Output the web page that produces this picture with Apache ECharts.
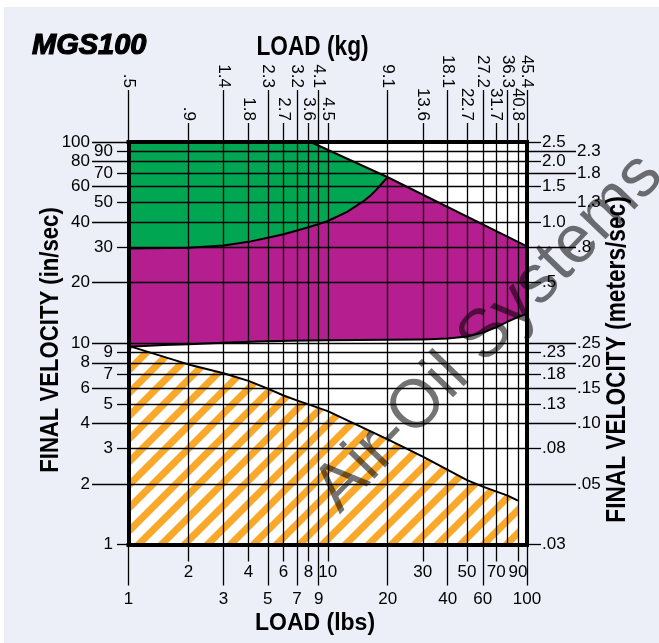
<!DOCTYPE html>
<html>
<head>
<meta charset="utf-8">
<title>MGS100 final velocity vs load</title>
<script src="https://cdn.jsdelivr.net/npm/echarts@6.0.0/dist/echarts.min.js"></script>
<style>
  html, body { margin: 0; padding: 0; background: #fff; }
  #chart { position: absolute; left: 4px; top: 7px; width: 655px; height: 636px; }
</style>
</head>
<body>
<div id="chart"></div>
<script>
// Load axis (lbs) tick values, long and short ticks alternate
const loadLbsLong  = [1, 3, 5, 7, 9, 20, 40, 60, 80, 100];
const loadLbsShort = [2, 4, 6, 8, 10, 30, 50, 70, 90];
// Matching kg labels along the top
const loadKgLong  = ['.5', '1.4', '2.3', '3.2', '4.1', '9.1', '18.1', '27.2', '36.3', '45.4'];
const loadKgShort = ['.9', '1.8', '2.7', '3.6', '4.5', '13.6', '22.7', '31.7', '40.8'];

// Velocity axis (in/sec) tick values
const velInLong  = [100, 80, 60, 40, 20, 10, 8, 6, 4, 2];
const velInShort = [90, 70, 50, 30, 9, 7, 5, 3, 1];
// Matching meters/sec labels on the right
const velMsLongAt   = [90, 70, 50, 30, 10, 8, 6, 4, 2];
const velMsLongText = ['2.3', '1.8', '1.3', '.8', '.25', '.20', '.15', '.10', '.05'];
const velMsShortAt   = [100, 80, 60, 40, 20, 9, 7, 5, 3, 1];
const velMsShortText = ['2.5', '2.0', '1.5', '1.0', '.5', '.23', '.18', '.13', '.08', '.03'];

// Region boundaries: [load lbs, velocity in/sec]
const upperLimit = [[8.2, 100], [20, 66.8], [100, 30.3]];
const greenLower = [[1, 29.6], [2, 29.8], [3, 30.6], [4, 31.9], [5, 33.4], [6, 34.8], [7, 36.3],
  [8, 37.7], [9, 39.1], [10, 40.5], [12.5, 45], [15, 50.5], [16.5, 54.5], [17.5, 57.8],
  [18.5, 61.5], [19.3, 64.5], [20, 66.8]];
const purpleLower = [[1, 9.6], [1.5, 9.8], [2, 9.9], [3, 10.05], [4.5, 10.2], [6.5, 10.3],
  [10, 10.35], [20, 10.4], [30, 10.45], [40, 10.55], [50, 10.8], [60, 11.3], [70, 12],
  [80, 12.8], [90, 13.5], [100, 14]];
const hatchUpper = [[1, 9.7], [2, 7.85], [3, 7.1], [4, 6.5], [5, 5.95], [6, 5.5], [7, 5.2],
  [8, 4.97], [10, 4.6], [20, 3.33], [30, 2.73], [40, 2.35], [50, 2.09], [60, 1.94],
  [80, 1.75], [90, 1.65]];

const SANS = '"Liberation Sans", Arial, sans-serif';

function lookup(values, labels) {
  return function (v) {
    let best = 0;
    for (let i = 1; i < values.length; i++) {
      if (Math.abs(Math.log(values[i] / v)) < Math.abs(Math.log(values[best] / v))) best = i;
    }
    return labels[best];
  };
}
const roundLabel = v => String(Math.round(v));

// Orange diagonal hatch tile
function makeHatch() {
  const P = 23, w = 10;
  const c = document.createElement('canvas');
  c.width = P; c.height = P;
  const g = c.getContext('2d');
  g.fillStyle = '#ffffff';
  g.fillRect(0, 0, P, P);
  g.fillStyle = '#F9A82A';
  for (let k = -1; k <= 2; k++) {
    g.beginPath();
    g.moveTo(k * P, 0);
    g.lineTo(k * P + w, 0);
    g.lineTo(k * P + w - P, P);
    g.lineTo(k * P - P, P);
    g.closePath();
    g.fill();
  }
  return c;
}
const hatch = makeHatch();

const tickLine = { color: '#000', width: 1.3 };
const gridLine = { color: '#000', width: 1.3 };
const border = { color: '#000', width: 4, cap: 'square' };
const labelFont = { color: '#000', fontSize: 17, fontFamily: SANS, showMinLabel: true, showMaxLabel: true, hideOverlap: false };

function axis(extra) {
  return Object.assign({
    type: 'log', logBase: 10, min: 1, max: 100, z: 10,
    axisLine: { show: false, onZero: false },
    minorTick: { show: false },
    minorSplitLine: { show: false },
    splitLine: { show: false }
  }, extra);
}

function regionSeries(buildPoints, style) {
  return {
    type: 'custom',
    silent: true,
    xAxisIndex: 0, yAxisIndex: 0,
    data: [[1, 1]],
    encode: { x: 0, y: 1 },
    renderItem: function (params, api) {
      return {
        type: 'polygon',
        shape: { points: buildPoints().map(p => api.coord(p)) },
        style: style
      };
    }
  };
}

function boundarySeries(lines) {
  return {
    type: 'custom',
    silent: true,
    xAxisIndex: 0, yAxisIndex: 0,
    data: [[1, 1]],
    encode: { x: 0, y: 1 },
    renderItem: function (params, api) {
      return {
        type: 'group',
        children: lines.map(pts => ({
          type: 'polyline',
          shape: { points: pts.map(p => api.coord(p)) },
          style: { stroke: '#000', lineWidth: 2, fill: null, lineJoin: 'round' }
        }))
      };
    }
  };
}

function title(text, x, y, size, extra) {
  return Object.assign({
    type: 'text', x: x, y: y, z: 50,
    style: { text: text, fontSize: size, fontWeight: 'bold', fontFamily: SANS, fill: '#000',
      align: 'center', textAlign: 'center', verticalAlign: 'middle', textVerticalAlign: 'middle' }
  }, extra || {});
}

const chart = echarts.init(document.getElementById('chart'), null, { renderer: 'canvas' });

const option = {
  animation: false,
  backgroundColor: '#ECEEF8',
  grid: { left: 124.5, right: 132, top: 135, bottom: 98.5, show: true, backgroundColor: '#ffffff', borderWidth: 0 },
  xAxis: [
    axis({
      position: 'bottom',
      axisLine: { show: true, onZero: false, lineStyle: border },
      axisTick: { show: true, customValues: loadLbsLong, length: 41, lineStyle: tickLine },
      axisLabel: Object.assign({ customValues: loadLbsLong, margin: 46, formatter: roundLabel }, labelFont),
      splitLine: { show: true, lineStyle: gridLine }
    }),
    axis({
      position: 'bottom',
      axisTick: { show: true, customValues: loadLbsShort, length: 17, lineStyle: tickLine },
      axisLabel: Object.assign({ customValues: loadLbsShort, margin: 19, formatter: roundLabel }, labelFont),
      splitLine: { show: true, lineStyle: gridLine }
    }),
    axis({
      position: 'top',
      axisLine: { show: true, onZero: false, lineStyle: border },
      axisTick: { show: true, customValues: loadLbsLong, length: 52, lineStyle: tickLine },
      axisLabel: Object.assign({ customValues: loadLbsLong, margin: 54, rotate: 90, formatter: lookup(loadLbsLong, loadKgLong) }, labelFont)
    }),
    axis({
      position: 'top',
      axisTick: { show: true, customValues: loadLbsShort, length: 19, lineStyle: tickLine },
      axisLabel: Object.assign({ customValues: loadLbsShort, margin: 21, rotate: 90, formatter: lookup(loadLbsShort, loadKgShort) }, labelFont)
    })
  ],
  yAxis: [
    axis({
      position: 'left',
      axisLine: { show: true, onZero: false, lineStyle: border },
      axisTick: { show: true, customValues: velInLong, length: 36.5, lineStyle: tickLine },
      axisLabel: Object.assign({ customValues: velInLong, margin: 38.5, formatter: roundLabel }, labelFont),
      splitLine: { show: true, lineStyle: gridLine }
    }),
    axis({
      position: 'left',
      axisTick: { show: true, customValues: velInShort, length: 11.5, lineStyle: tickLine },
      axisLabel: Object.assign({ customValues: velInShort, margin: 15.5, formatter: roundLabel }, labelFont),
      splitLine: { show: true, lineStyle: gridLine }
    }),
    axis({
      position: 'right',
      axisLine: { show: true, onZero: false, lineStyle: border },
      axisTick: { show: true, customValues: velMsLongAt, length: 49, lineStyle: tickLine },
      axisLabel: Object.assign({ customValues: velMsLongAt, margin: 50, formatter: lookup(velMsLongAt, velMsLongText) }, labelFont)
    }),
    axis({
      position: 'right',
      axisTick: { show: true, customValues: velMsShortAt, length: 14, lineStyle: tickLine },
      axisLabel: Object.assign({ customValues: velMsShortAt, margin: 15, formatter: lookup(velMsShortAt, velMsShortText) }, labelFont)
    })
  ],
  series: [
    regionSeries(() => [[1, 100]].concat(upperLimit.slice(0, 2), greenLower.slice().reverse()),
      { fill: '#00A651' }),
    regionSeries(() => greenLower.concat(upperLimit.slice(2), purpleLower.slice().reverse()),
      { fill: '#B41E8E' }),
    regionSeries(() => hatchUpper.concat([[90, 1], [1, 1]]),
      { fill: { image: hatch, repeat: 'repeat' } }),
    boundarySeries([upperLimit, greenLower, purpleLower, hatchUpper])
  ],
  graphic: [
    { type: 'text', x: 28, y: 39, z: 50,
      style: { text: 'MGS100', fontSize: 29, fontStyle: 'italic', fontWeight: 'bold', fontFamily: SANS,
        fill: '#000', stroke: '#000', lineWidth: 1.2, verticalAlign: 'middle', textVerticalAlign: 'middle' } },
    title('LOAD (kg)', 308.5, 40, 28, { scaleX: 0.81 }),
    title('LOAD (lbs)', 311, 616.3, 23),
    title('FINAL VELOCITY (in/sec)', 46.8, 333, 26.5, { rotation: Math.PI / 2, scaleX: 0.835 }),
    title('FINAL VELOCITY (meters/sec)', 613.5, 352.5, 28, { rotation: Math.PI / 2, scaleX: 0.81 }),
    { type: 'text', x: 485, y: 326, rotation: 46 * Math.PI / 180, z: 100,
      style: { text: 'Air-Oil Systems', fontSize: 68, fontFamily: SANS, fill: 'rgba(0,0,0,0.55)',
        align: 'center', textAlign: 'center', verticalAlign: 'middle', textVerticalAlign: 'middle' } }
  ]
};

chart.setOption(option);
</script>
</body>
</html>
